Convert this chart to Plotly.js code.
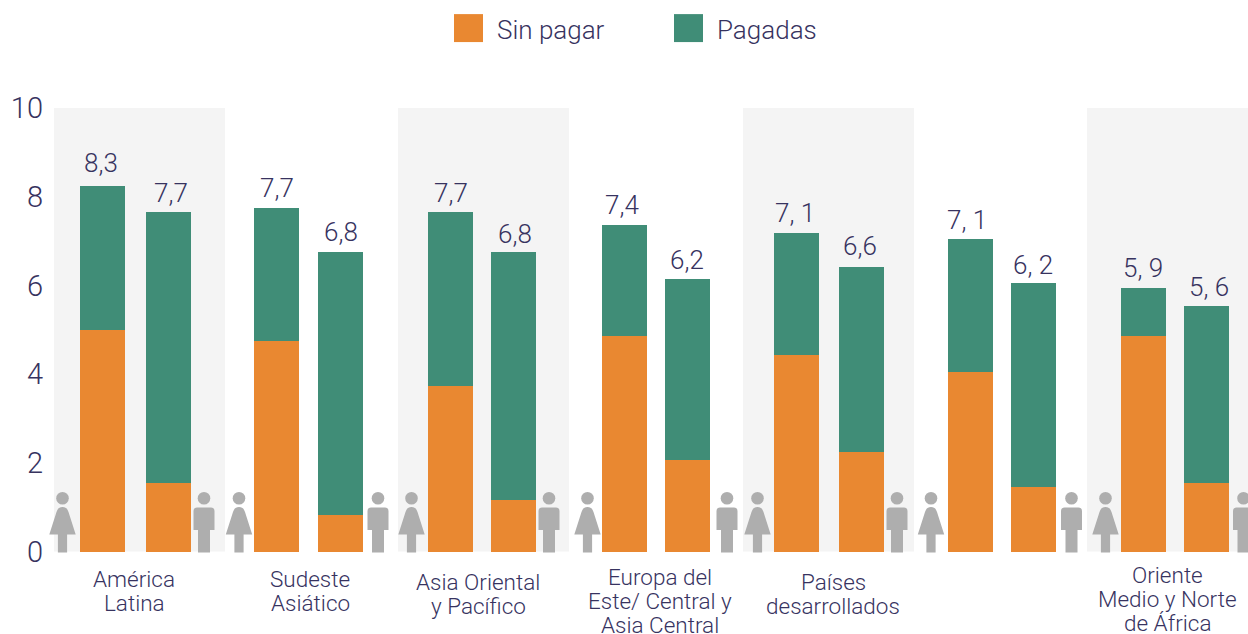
<!DOCTYPE html>
<html><head><meta charset="utf-8">
<script src="https://cdn.plot.ly/plotly-3.0.1.min.js"></script>
<style>html,body{margin:0;padding:0;background:#fff;overflow:hidden}</style>
</head><body><div id="chart" style="width:1248px;height:634px"></div>
<script>
const seriesNames = ['Sin pagar', 'Pagadas'];
const regions = ['América<br>Latina', 'Sudeste<br>Asiático', 'Asia Oriental<br>y Pacífico', 'Europa del<br>Este/ Central y<br>Asia Central', 'Países<br>desarrollados', '', 'Oriente<br>Medio y Norte<br>de África'];
const sinPagar = [5.0, 1.55, 4.75, 0.83, 3.74, 1.17, 4.86, 2.07, 4.44, 2.25, 4.05, 1.46, 4.86, 1.55];
const pagadas = [3.24, 6.11, 3.0, 5.93, 3.92, 5.59, 2.5, 4.08, 2.74, 4.17, 3.0, 4.6, 1.09, 3.99];
const totalLabels = ['8,3', '7,7', '7,7', '6,8', '7,7', '6,8', '7,4', '6,2', '7, 1', '6,6', '7, 1', '6, 2', '5, 9', '5, 6'];

// layout helpers: x axis is in page pixels
const barX = [102.5, 168.5, 276.5, 340.5, 450.5, 513.5, 624.5, 687.5, 796.5, 861.5, 970.5, 1033.5, 1143.5, 1206.5];
const labelDx = [-2, 2.5, 0.5, 0, 0.5, 1, -2.5, -0.5, -1.5, -1.5, -3.5, -0.5, -0.5, 2.5];
const labelGap = [23, 19, 20, 20, 19, 18, 20, 19, 20, 21, 19, 18, 20, 19];
const bandEdges = [[54, 225], [398, 569], [743, 914], [1087, 1250]];
const womanX = [62.5, 239, 411.5, 587.5, 757.5, 931, 1105.5];
const manX = [204, 378, 549, 727, 897, 1071.5, 1243.5];
const regionX = [134, 310, 478, 660, 833, 1000, 1167];
const regionY = [580, 580, 583, 578, 583, 583, 576];
const INK = '#37335f', ORANGE = '#E98831', GREEN = '#408D77', GREY = '#AEAEAE';
const FONT = 'Roboto, Inter, "Noto Sans", sans-serif';
const H = 634;
const paperY = p => 1 - (p - 108) / (553.5 - 108);

const shapes = [];
bandEdges.forEach(b => shapes.push({type: 'rect', layer: 'below', xref: 'x', yref: 'y', x0: b[0], x1: b[1], y0: 0, y1: 10, fillcolor: '#F4F4F4', line: {width: 0}}));
function icon(cx, path) {
  shapes.push({type: 'path', layer: 'above', xref: 'x', yref: 'y', xsizemode: 'pixel', ysizemode: 'pixel', xanchor: cx, yanchor: 0, path: path, fillcolor: GREY, line: {width: 0}});
  shapes.push({type: 'circle', layer: 'above', xref: 'x', yref: 'y', xsizemode: 'pixel', ysizemode: 'pixel', xanchor: cx, yanchor: 0, x0: -6.3, x1: 6.3, y0: 47, y1: 59.6, fillcolor: GREY, line: {width: 0}});
}
const woman = 'M-3.5,43.5 Q0,45.5 3.5,43.5 Q5,42.5 6,39.5 L13.2,17 L4.6,17 L4.6,-1 L-4.6,-1 L-4.6,17 L-13.2,17 L-6,39.5 Q-5,42.5 -3.5,43.5 Z';
const man = 'M-7,44 L7,44 Q10.5,44 10.5,40.5 L10.5,21.5 L6,21.5 L6,-1 L-6,-1 L-6,21.5 L-10.5,21.5 L-10.5,40.5 Q-10.5,44 -7,44 Z';
womanX.forEach(x => icon(x, woman));
manX.forEach(x => icon(x, man));
[[454, ORANGE], [674, GREEN]].forEach(s => shapes.push({type: 'rect', xref: 'x', yref: 'paper', x0: s[0], x1: s[0] + 29, y0: paperY(42), y1: paperY(14), fillcolor: s[1], line: {width: 0}}));

const annotations = [];
barX.forEach((x, i) => annotations.push({x: x, y: sinPagar[i] + pagadas[i], xref: 'x', yref: 'y', text: totalLabels[i], showarrow: false, xshift: labelDx[i], yanchor: 'middle', yshift: labelGap[i], font: {family: FONT, size: 26, color: INK, weight: 300}}));
regions.forEach((t, i) => {
  if (!t) return;
  t.split('<br>').forEach((line, j) => annotations.push({x: regionX[i], y: paperY(regionY[i] + 24 * j), xref: 'x', yref: 'paper', text: line, showarrow: false, yanchor: 'middle', align: 'center', font: {family: FONT, size: 22.5, color: INK, weight: 300}}));
});
[[495, seriesNames[0]], [715, seriesNames[1]]].forEach(l => annotations.push({x: l[0], y: paperY(30), xref: 'x', yref: 'paper', text: l[1], showarrow: false, xanchor: 'left', yanchor: 'middle', font: {family: FONT, size: 26, color: INK, weight: 300}}));

const traces = [
  {type: 'bar', name: seriesNames[0], x: barX, y: sinPagar, width: 45, marker: {color: ORANGE, line: {width: 0}}, hoverinfo: 'y+name'},
  {type: 'bar', name: seriesNames[1], x: barX, y: pagadas, width: 45, marker: {color: GREEN, line: {width: 0}}, hoverinfo: 'y+name'}
];
const layout = {
  width: 1248, height: H, autosize: false,
  barmode: 'stack', showlegend: false,
  paper_bgcolor: '#fff', plot_bgcolor: 'rgba(0,0,0,0)',
  margin: {l: 44, r: 0, t: 108, b: H - 553.5, pad: 0},
  xaxis: {range: [44, 1248], showgrid: false, zeroline: false, showticklabels: false, ticks: '', showline: false, fixedrange: true},
  yaxis: {range: [-1.5 / 44.4, 10], tickvals: [0, 2, 4, 6, 8, 10], ticktext: ['0', '2', '4', '6', '8', '10'], showgrid: false, zeroline: false, showline: false, ticks: '', tickfont: {family: FONT, size: 29, color: INK, weight: 300}, fixedrange: true},
  shapes: shapes, annotations: annotations
};
Plotly.newPlot('chart', traces, layout, {displayModeBar: false});
</script></body></html>
